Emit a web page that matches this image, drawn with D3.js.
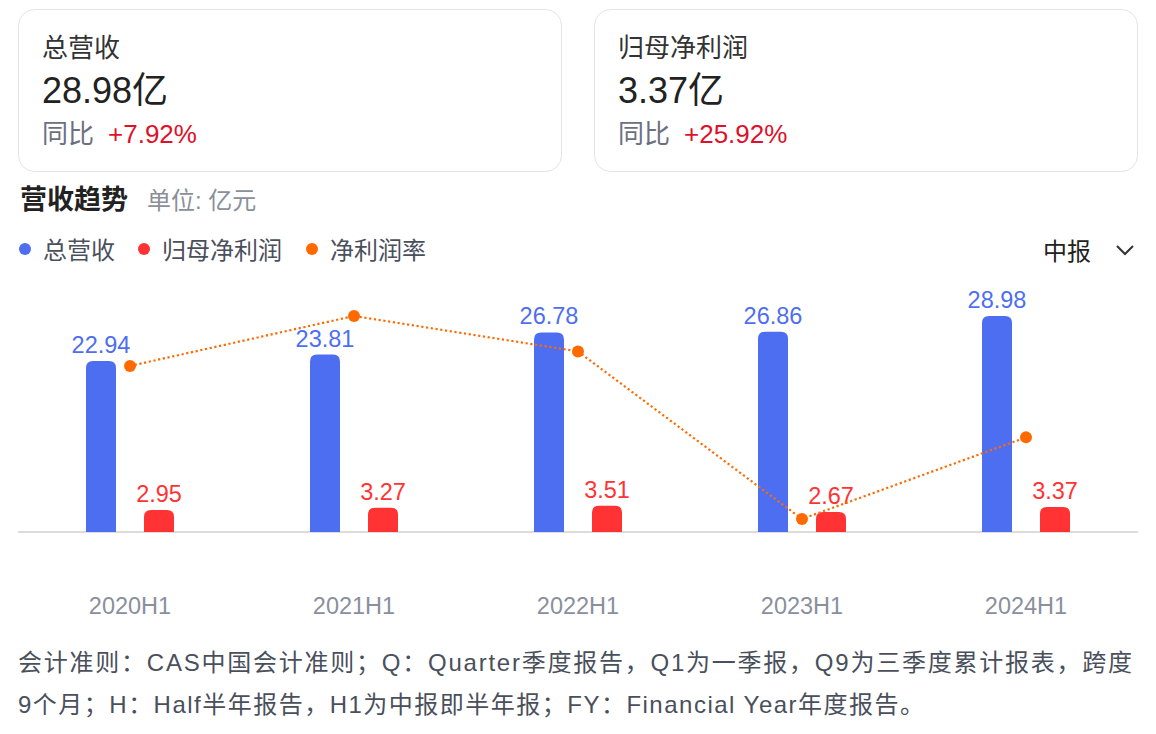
<!DOCTYPE html>
<html>
<head>
<meta charset="utf-8">
<script src="https://cdn.jsdelivr.net/npm/d3@7"></script>
<style>
  html, body { margin: 0; padding: 0; background: #fff; }
  svg { display: block; }
  text { font-family: "Liberation Sans", Arial, "Noto Sans CJK SC", sans-serif; }
</style>
</head>
<body>
<svg id="chart" width="1156" height="734"></svg>
<script>
// ---- data ----
const categories = ["2020H1", "2021H1", "2022H1", "2023H1", "2024H1"];
const revenue = [22.94, 23.81, 26.78, 26.86, 28.98];      // 总营收 (亿)
const netProfit = [2.95, 3.27, 3.51, 2.67, 3.37];         // 归母净利润 (亿)
const netMargin = [12.85, 13.78, 13.12, 10.00, 11.52];    // 净利润率 (%)
const legendItems = ["总营收", "归母净利润", "净利润率"];
const cards = [
  { title: "总营收", value: "28.98亿", change: "+7.92%" },
  { title: "归母净利润", value: "3.37亿", change: "+25.92%" }
];
const footnoteLines = [
  "会计准则：CAS中国会计准则；Q：Quarter季度报告，Q1为一季报，Q9为三季度累计报表，跨度",
  "9个月；H：Half半年报告，H1为中报即半年报；FY：Financial Year年度报告。"
];

const BLUE = "#4e6ef2", RED = "#ff3333", ORANGE = "#ff6a00";
const svg = d3.select("#chart");

// ---- cards ----
cards.forEach((c, i) => {
  const x0 = 18 + i * 576;
  const g = svg.append("g").attr("transform", `translate(${x0},0)`);
  g.append("rect").attr("x", 0.5).attr("y", 9.5).attr("width", 543).attr("height", 162)
    .attr("rx", 16).attr("fill", "#fff").attr("stroke", "#e3e4e8");
  g.append("text").attr("x", 24).attr("y", 57).attr("font-size", 26).attr("fill", "#333")
    .text(c.title);
  g.append("text").attr("x", 24).attr("y", 103).attr("font-size", 36).attr("fill", "#222")
    .text(c.value);
  const t = g.append("text").attr("x", 24).attr("y", 143).attr("font-size", 26);
  t.append("tspan").attr("fill", "#6b7080").text("同比");
  t.append("tspan").attr("dx", 14).attr("fill", "#e0102a").text(c.change);
});

// ---- title ----
svg.append("text").attr("x", 20).attr("y", 209).attr("font-size", 27).attr("font-weight", "bold")
  .attr("fill", "#222").text("营收趋势");
svg.append("text").attr("x", 147).attr("y", 209).attr("font-size", 24).attr("fill", "#8a8f99")
  .text("单位: 亿元");

// ---- legend ----
const legendColors = [BLUE, RED, ORANGE];
const legendX = [25, 144, 312];
legendItems.forEach((name, i) => {
  svg.append("circle").attr("cx", legendX[i]).attr("cy", 249).attr("r", 6).attr("fill", legendColors[i]);
  svg.append("text").attr("x", legendX[i] + 18).attr("y", 259).attr("font-size", 24)
    .attr("fill", "#4a4f5c").text(name);
});

// period selector
svg.append("text").attr("x", 1043).attr("y", 260).attr("font-size", 24).attr("fill", "#222").text("中报");
svg.append("path").attr("d", "M1117,246 L1125,254 L1133,246").attr("fill", "none")
  .attr("stroke", "#333").attr("stroke-width", 2);

// ---- scales ----
const x = d3.scaleBand().domain(categories).range([18, 1138]);
const y = d3.scaleLinear().domain([0, 30]).range([532, 532 - 30 * 7.453]);
const yRate = d3.scaleLinear().domain([10, 13.78]).range([519, 316]);
const barW = 30, offset = 29;
const cx = c => x(c) + x.bandwidth() / 2;

function topRoundedBar(xc, yTop, yBase, w, r) {
  const h = yBase - yTop;
  r = Math.min(r, h, w / 2);
  const x0 = xc - w / 2, x1 = xc + w / 2;
  return `M${x0},${yBase} L${x0},${yTop + r} Q${x0},${yTop} ${x0 + r},${yTop} L${x1 - r},${yTop} Q${x1},${yTop} ${x1},${yTop + r} L${x1},${yBase} Z`;
}

// axis baseline
svg.append("line").attr("x1", 18).attr("x2", 1138).attr("y1", 532).attr("y2", 532)
  .attr("stroke", "#dcdcdc").attr("stroke-width", 2);

// x-axis labels via d3 axis
const xAxis = svg.append("g").attr("transform", "translate(0,533)")
  .call(d3.axisBottom(x).tickSize(0).tickPadding(0));
xAxis.select(".domain").remove();
xAxis.selectAll("text").attr("font-size", 23.5).attr("fill", "#8a8f9c")
  .attr("dy", null).attr("y", 81)
  .style("font-family", '"Liberation Sans", Arial, sans-serif');

// revenue bars
svg.append("g").selectAll("path").data(categories).join("path")
  .attr("d", (c, i) => topRoundedBar(cx(c) - offset, y(revenue[i]), y(0), barW, 7))
  .attr("fill", BLUE);
svg.append("g").selectAll("text").data(categories).join("text")
  .attr("x", c => cx(c) - offset).attr("y", (c, i) => y(revenue[i]) - 8)
  .attr("text-anchor", "middle").attr("font-size", 23.5).attr("fill", BLUE)
  .text((c, i) => revenue[i].toFixed(2));

// net profit bars
svg.append("g").selectAll("path").data(categories).join("path")
  .attr("d", (c, i) => topRoundedBar(cx(c) + offset, y(netProfit[i]), y(0), barW, 7))
  .attr("fill", RED);
svg.append("g").selectAll("text").data(categories).join("text")
  .attr("x", c => cx(c) + offset).attr("y", (c, i) => y(netProfit[i]) - 8)
  .attr("text-anchor", "middle").attr("font-size", 23.5).attr("fill", RED)
  .text((c, i) => netProfit[i].toFixed(2));

// margin line
const line = d3.line().x((d, i) => cx(categories[i])).y(d => yRate(d));
svg.append("path").datum(netMargin).attr("d", line).attr("fill", "none")
  .attr("stroke", ORANGE).attr("stroke-width", 2.2).attr("stroke-dasharray", "2.2 2.6");
svg.append("g").selectAll("circle").data(netMargin).join("circle")
  .attr("cx", (d, i) => cx(categories[i])).attr("cy", d => yRate(d)).attr("r", 6)
  .attr("fill", ORANGE);

// ---- footnote ----
const fnLengths = [1114, 906];
footnoteLines.forEach((t, i) => {
  svg.append("text").attr("x", 18).attr("y", 671 + i * 42).attr("font-size", 24)
    .attr("fill", "#4a4f5c").attr("textLength", fnLengths[i]).attr("lengthAdjust", "spacing")
    .text(t);
});
</script>
</body>
</html>
